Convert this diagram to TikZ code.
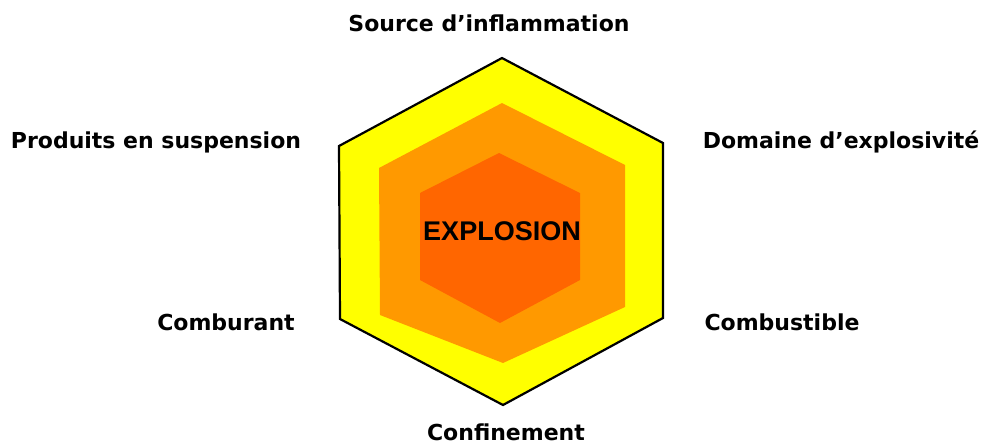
\documentclass[tikz,border=0pt]{standalone}
\usepackage{fontspec}
\setmainfont{DejaVu Sans}
\newfontfamily\arialfont{Liberation Sans}
\definecolor{hexyellow}{RGB}{255,255,0}
\definecolor{hexorange}{RGB}{255,153,0}
\definecolor{hexred}{RGB}{255,102,0}
\tikzset{
         lbl/.style={font=\bfseries\fontsize{22}{26}\selectfont,inner sep=0pt},
         core/.style={font=\arialfont\bfseries\fontsize{27}{30}\selectfont,inner sep=0pt}
        }

\begin{document}
\begin{tikzpicture}[x=1pt,y=-1pt]
\useasboundingbox(0,0)rectangle(983,445);
\fill[white](0,0)rectangle(983,445);
%hexagons
\filldraw[fill=hexyellow,line width=2.2pt,line join=miter](502,58)--(663,143)--(663,318)--(503,405)--(340,319)--(339,146)--cycle;
\fill[hexorange](502,103)--(625,165)--(625,307)--(503,363)--(380,315)--(379,168)--cycle;
\fill[hexred](499,153)--(580,193)--(580,280)--(500,323)--(420,280)--(420,193)--cycle;
\node[core](explosion)at(502,231){EXPLOSION};
%labels
\node[lbl](source)at(489,23){Source d’inflammation};
\node[lbl](produits)at(156,142){Produits en suspension};
\node[lbl](domaine)at(841,142){Domaine d’explosivité};
\node[lbl](comburant)at(226,322){Comburant};
\node[lbl](combustible)at(782,322){Combustible};
\node[lbl](confinement)at(506,432){Confinement};
\end{tikzpicture}
\end{document}
